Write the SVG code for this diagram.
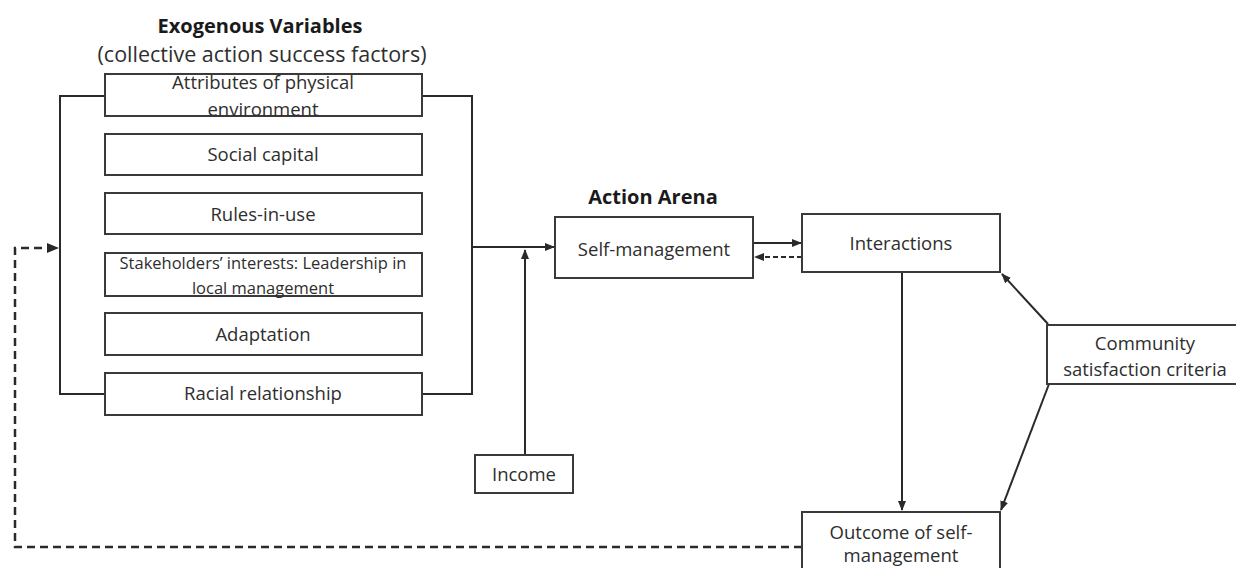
<svg xmlns="http://www.w3.org/2000/svg" width="1236" height="568" viewBox="0 0 1236 568">
<defs>
<style>
.box{fill:#fff;stroke:#3a3a3a;stroke-width:2}
.t{font-family:"Open Sans","Liberation Sans",sans-serif;font-size:18.5px;fill:#2e2e2e;text-anchor:middle}
.s{font-size:16.5px}
.h{font-family:"Open Sans","Liberation Sans",sans-serif;font-size:20px;font-weight:bold;fill:#1a1a1a;text-anchor:middle}
.c{fill:none;stroke:#2a2a2a;stroke-width:2}
.d{fill:none;stroke:#2a2a2a;stroke-width:2.5;stroke-dasharray:8,5}
</style>
<marker id="ah" viewBox="0 0 10 10" refX="9" refY="5" markerWidth="5" markerHeight="5" orient="auto-start-reverse" markerUnits="strokeWidth">
<path d="M0,1 L10,5 L0,9 z" fill="#2a2a2a"/>
</marker>
</defs>
<rect width="1236" height="568" fill="#fff"/>
<g id="titles">
<text class="h" x="260" y="33">Exogenous Variables</text>
<text class="t" x="262" y="62" style="font-size:21.5px">(collective action success factors)</text>
<text class="h" x="653" y="204">Action Arena</text>
</g>
<g id="connectors">
<polyline class="c" points="105,96 60,96 60,394 105,394"/>
<polyline class="c" points="422,96 472,96 472,394 422,394"/>
<line class="c" x1="472" y1="247" x2="554" y2="247" marker-end="url(#ah)"/>
<line class="c" x1="525" y1="455" x2="525" y2="250" marker-end="url(#ah)"/>
<line class="c" x1="753" y1="243" x2="801" y2="243" marker-end="url(#ah)"/>
<line class="d" x1="802" y1="257" x2="755" y2="257" marker-end="url(#ah)" style="stroke-width:2;stroke-dasharray:5,3"/>
<line class="c" x1="902" y1="272" x2="902" y2="510" marker-end="url(#ah)"/>
<line class="c" x1="1048" y1="324" x2="1002" y2="274" marker-end="url(#ah)"/>
<line class="c" x1="1049" y1="384" x2="1001" y2="510" marker-end="url(#ah)"/>
<polyline class="d" points="802,547 15,547 15,248 58,248" marker-end="url(#ah)"/>
</g>
<g id="attributes">
<rect class="box" x="105" y="74" width="317" height="42"/>
<text class="t" x="263" y="89">Attributes of physical</text>
<text class="t" x="263" y="116">environment</text>
</g>
<g id="social-capital">
<rect class="box" x="105" y="134" width="317" height="41"/>
<text class="t" x="263" y="161">Social capital</text>
</g>
<g id="rules">
<rect class="box" x="105" y="193" width="317" height="41"/>
<text class="t" x="263" y="221">Rules-in-use</text>
</g>
<g id="stakeholders">
<rect class="box" x="105" y="253" width="317" height="43"/>
<text class="t s" x="263" y="269">Stakeholders’ interests: Leadership in</text>
<text class="t s" x="263" y="294">local management</text>
</g>
<g id="adaptation">
<rect class="box" x="105" y="313" width="317" height="42"/>
<text class="t" x="263" y="341">Adaptation</text>
</g>
<g id="racial">
<rect class="box" x="105" y="373" width="317" height="42"/>
<text class="t" x="263" y="400">Racial relationship</text>
</g>
<g id="self-management">
<rect class="box" x="555" y="217" width="198" height="61"/>
<text class="t" x="654" y="256">Self-management</text>
</g>
<g id="interactions">
<rect class="box" x="802" y="214" width="198" height="58"/>
<text class="t" x="901" y="250">Interactions</text>
</g>
<g id="income">
<rect class="box" x="475" y="455" width="98" height="38"/>
<text class="t" x="524" y="481">Income</text>
</g>
<g id="community">
<rect class="box" x="1047" y="325" width="195" height="59"/>
<text class="t" x="1145" y="350">Community</text>
<text class="t" x="1145" y="376">satisfaction criteria</text>
</g>
<g id="outcome">
<rect class="box" x="802" y="512" width="198" height="70"/>
<text class="t" x="901" y="539">Outcome of self-</text>
<text class="t" x="901" y="562">management</text>
</g>
</svg>
